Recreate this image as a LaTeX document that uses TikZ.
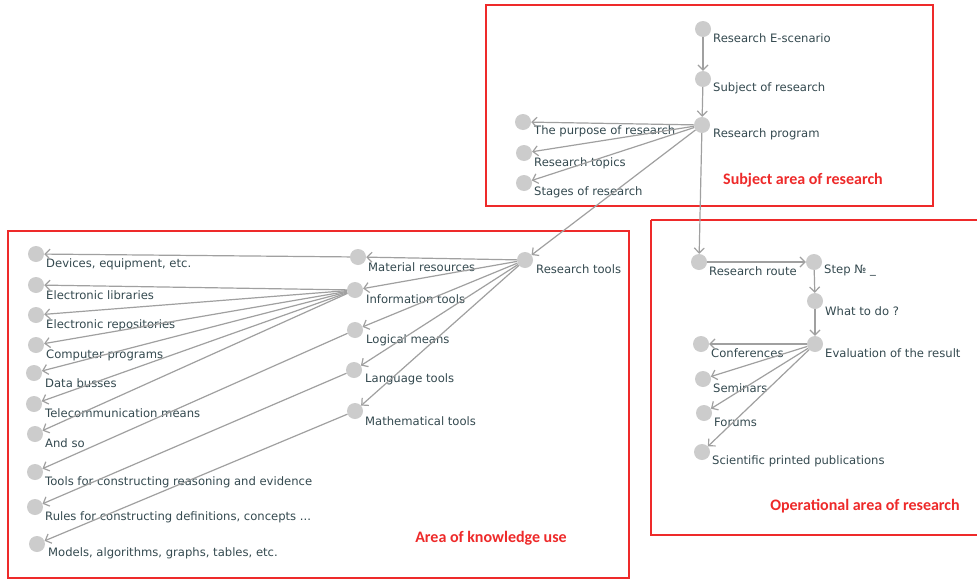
\documentclass[tikz,border=0pt]{standalone}
\usepackage{fontspec}
\setmainfont{DejaVu Sans}
\newfontfamily\redfont{Carlito}
\usetikzlibrary{arrows.meta}
\definecolor{dotgray}{HTML}{CCCCCC}
\definecolor{edgegray}{HTML}{A0A0A0}
\definecolor{txt}{HTML}{34494F}
\definecolor{boxred}{HTML}{EE2A2A}
\tikzset{
  dot/.style={circle,fill=dotgray,draw=none,minimum size=16pt,inner sep=0pt},
  lbl/.style={anchor=west,inner sep=0pt,text=txt,font=\fontsize{11.6}{13}\selectfont},
  area/.style={draw=boxred,line width=1.6pt},
  areatext/.style={text=boxred,font=\redfont\bfseries\fontsize{16}{18}\selectfont,inner sep=0pt},
  edge/.style={draw=edgegray,line width=1.2pt,-{Straight Barb[length=5pt,width=10pt]}},
}
\begin{document}
\begin{tikzpicture}[x=1pt,y=-1pt]
\useasboundingbox (0,0) rectangle (977,581);
\fill[white] (0,0) rectangle (977,581);
% areas
\draw[area] (486,5) rectangle (933,206);
\draw[area] (8,231) rectangle (629,578);
\draw[area] (651,220) -- (980,220) (651,220) -- (651,535) -- (980,535);
\node[areatext] (t1) at (803,180) {Subject area of research};
\node[areatext] (t2) at (491,538) {Area of knowledge use};
\node[areatext] (t3) at (865,506) {Operational area of research};
% subject area
\node[dot] (esc) at (703,29) {};
\node[lbl] (escl) at (713,38) {Research E-scenario};
\node[dot] (subj) at (703,79) {};
\node[lbl] (subjl) at (713,88) {Subject of research};
\node[dot] (prog) at (702,125) {};
\node[lbl] (progl) at (713,134) {Research program};
\node[dot] (purp) at (523,122) {};
\node[lbl] (purpl) at (534,131) {The purpose of research};
\node[dot] (topi) at (524,153) {};
\node[lbl] (topil) at (534,163) {Research topics};
\node[dot] (stag) at (524,183) {};
\node[lbl] (stagl) at (534,192) {Stages of research};
% knowledge area
\node[dot] (tools) at (525,260) {};
\node[lbl] (toolsl) at (536,269) {Research tools};
\node[dot] (mat) at (358,257) {};
\node[lbl] (matl) at (368,267) {Material resources};
\node[dot] (inf) at (355,290) {};
\node[lbl] (infl) at (366,299) {Information tools};
\node[dot] (logi) at (355,330) {};
\node[lbl] (logil) at (366,340) {Logical means};
\node[dot] (lang) at (354,370) {};
\node[lbl] (langl) at (365,379) {Language tools};
\node[dot] (math) at (355,411) {};
\node[lbl] (mathl) at (365,421) {Mathematical tools};
\node[dot] (dev) at (36,254) {};
\node[lbl] (devl) at (46,264) {Devices, equipment, etc.};
\node[dot] (elib) at (36,285) {};
\node[lbl] (elibl) at (46,295) {Electronic libraries};
\node[dot] (erep) at (36,315) {};
\node[lbl] (erepl) at (46,325) {Electronic repositories};
\node[dot] (comp) at (36,345) {};
\node[lbl] (compl) at (46,355) {Computer programs};
\node[dot] (bus) at (34,373) {};
\node[lbl] (busl) at (45,383) {Data busses};
\node[dot] (tele) at (34,404) {};
\node[lbl] (telel) at (45,413) {Telecommunication means};
\node[dot] (andso) at (35,434) {};
\node[lbl] (andsol) at (45,443) {And so};
\node[dot] (reas) at (35,472) {};
\node[lbl] (reasl) at (45,482) {Tools for constructing reasoning and evidence};
\node[dot] (rules) at (35,507) {};
\node[lbl] (rulesl) at (45,517) {Rules for constructing definitions, concepts ...};
\node[dot] (mod) at (37,544) {};
\node[lbl] (modl) at (48,553) {Models, algorithms, graphs, tables, etc.};
% operational area
\node[dot] (route) at (699,262) {};
\node[lbl] (routel) at (709,271) {Research route};
\node[dot] (step) at (814,262) {};
\node[lbl] (stepl) at (824,271) {Step № \_};
\node[dot] (what) at (815,301) {};
\node[lbl] (whatl) at (825,311) {What to do ?};
\node[dot] (eval) at (815,344) {};
\node[lbl] (evall) at (825,353) {Evaluation of the result};
\node[dot] (conf) at (701,344) {};
\node[lbl] (confl) at (711,353) {Conferences};
\node[dot] (semi) at (703,379) {};
\node[lbl] (semil) at (713,388) {Seminars};
\node[dot] (foru) at (704,413) {};
\node[lbl] (forul) at (714,422) {Forums};
\node[dot] (publ) at (702,452) {};
\node[lbl] (publl) at (712,461) {Scientific printed publications};
% edges
\path[edge] (esc) -- (subj);
\path[edge] (subj) -- (prog);
\path[edge] (prog) -- (purp);
\path[edge] (prog) -- (topi);
\path[edge] (prog) -- (stag);
\path[edge] (prog) -- (tools);
\path[edge] (prog) -- (route);
\path[edge] (tools) -- (mat);
\path[edge] (tools) -- (inf);
\path[edge] (tools) -- (logi);
\path[edge] (tools) -- (lang);
\path[edge] (tools) -- (math);
\path[edge] (mat) -- (dev);
\path[edge] (inf) -- (elib);
\path[edge] (inf) -- (erep);
\path[edge] (inf) -- (comp);
\path[edge] (inf) -- (bus);
\path[edge] (inf) -- (tele);
\path[edge] (inf) -- (andso);
\path[edge] (logi) -- (reas);
\path[edge] (lang) -- (rules);
\path[edge] (math) -- (mod);
\path[edge] (route) -- (step);
\path[edge] (step) -- (what);
\path[edge] (what) -- (eval);
\path[edge] (eval) -- (conf);
\path[edge] (eval) -- (semi);
\path[edge] (eval) -- (foru);
\path[edge] (eval) -- (publ);
\end{tikzpicture}
\end{document}
